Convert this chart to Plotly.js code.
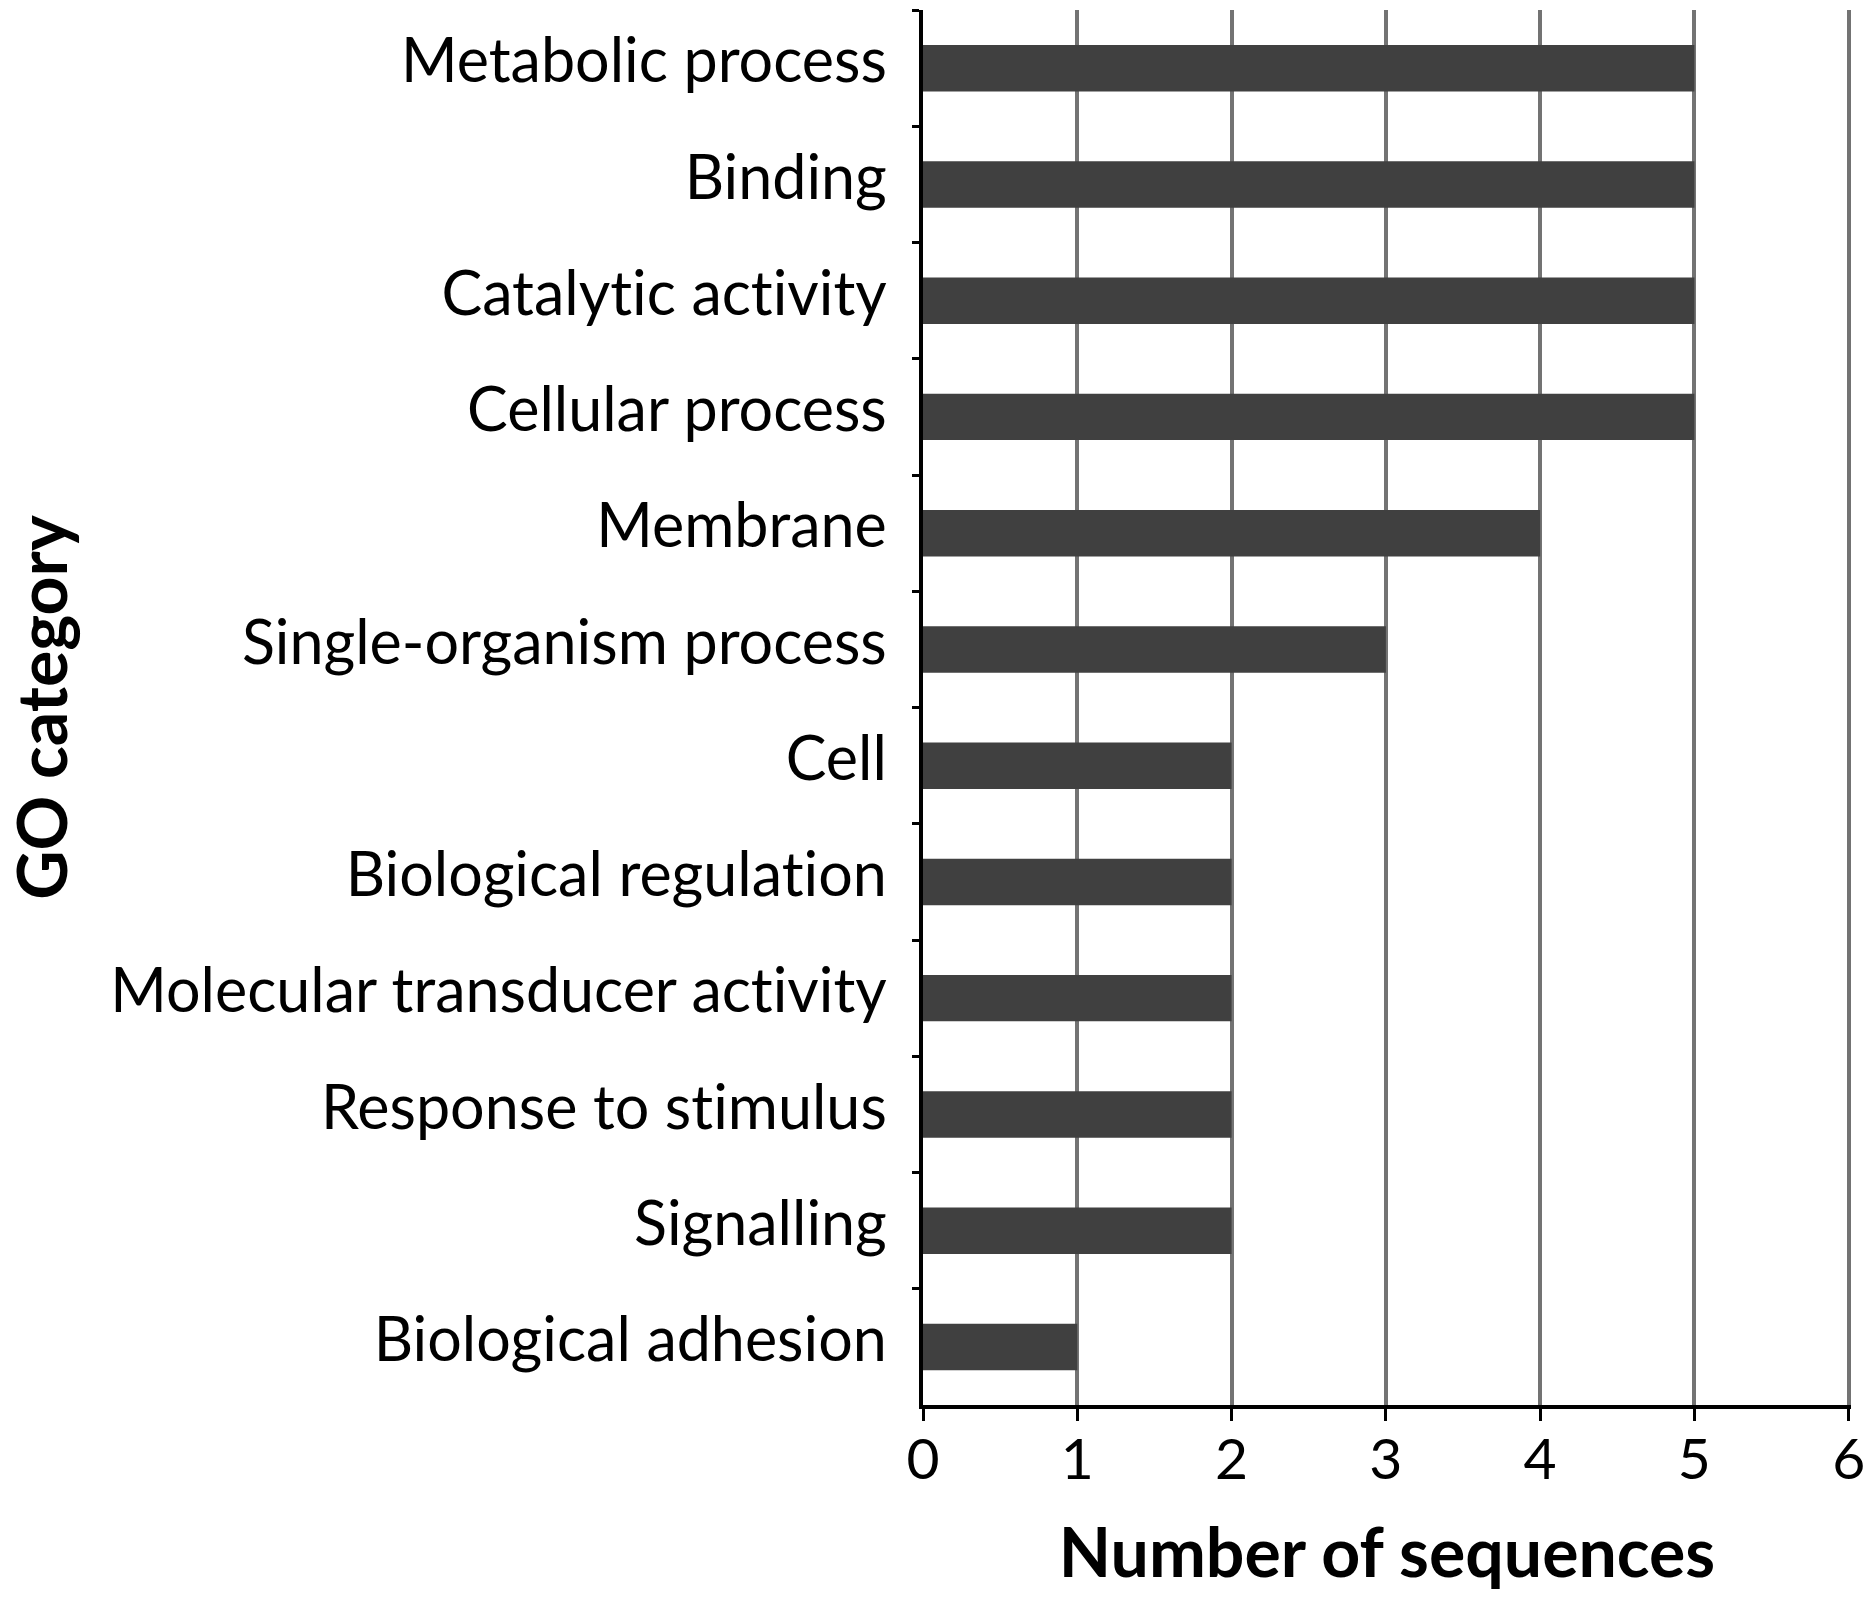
<!DOCTYPE html>
<html>
<head>
<meta charset="utf-8">
<script src="https://cdn.plot.ly/plotly-3.0.1.min.js"></script>
<style>
html,body{margin:0;padding:0;background:#fff;}
#chart{width:1867px;height:1600px;}
#chart text{font-variant-ligatures:none;font-feature-settings:"liga" 0;}
</style>
</head>
<body>
<div id="chart"></div>
<script>
const categories = [
  "Metabolic process",
  "Binding",
  "Catalytic activity",
  "Cellular process",
  "Membrane",
  "Single-organism process",
  "Cell",
  "Biological regulation",
  "Molecular transducer activity",
  "Response to stimulus",
  "Signalling",
  "Biological adhesion"
];
const sequenceCounts = [5, 5, 5, 5, 4, 3, 2, 2, 2, 2, 2, 1];
const xTickValues = [0, 1, 2, 3, 4, 5, 6];
const xTitle = "Number of sequences";
const yTitle = "GO category";

const trace = {
  type: "bar",
  orientation: "h",
  x: sequenceCounts,
  y: categories,
  width: 0.4,
  marker: { color: "#404040", line: { width: 0 } },
  hoverinfo: "x+y"
};

const layout = {
  width: 1867,
  height: 1600,
  paper_bgcolor: "#ffffff",
  plot_bgcolor: "#ffffff",
  showlegend: false,
  margin: { l: 923, r: 16, t: 10, b: 195, pad: 0 },
  font: { family: "Lato, 'Open Sans', sans-serif", color: "#000000", size: 60 },
  xaxis: {
    range: [0, 6.015],
    tickvals: xTickValues,
    ticktext: xTickValues.map(String),
    showgrid: true,
    gridcolor: "#737373",
    gridwidth: 4,
    zeroline: false,
    showline: true,
    linecolor: "#000000",
    linewidth: 4,
    ticks: "outside",
    ticklen: 12,
    tickwidth: 3,
    tickcolor: "#000000",
    ticklabelstandoff: -10,
    ticklabeloverflow: "allow",
    tickfont: { family: "Lato, sans-serif", size: 57, color: "#000000" },
    title: { text: xTitle, font: { family: "Lato, sans-serif", size: 68, color: "#000000", weight: "bold" }, standoff: 40 },
    fixedrange: true
  },
  yaxis: {
    type: "category",
    autorange: "reversed",
    showgrid: false,
    zeroline: false,
    showline: true,
    linecolor: "#000000",
    linewidth: 4,
    ticks: "outside",
    tickson: "boundaries",
    ticklen: 7,
    tickwidth: 3,
    tickcolor: "#000000",
    ticklabelstandoff: 20,
    ticklabelshift: 7,
    tickfont: { family: "Lato, sans-serif", size: 61, color: "#000000" },
    title: { text: yTitle, font: { family: "Lato, sans-serif", size: 68, color: "#000000", weight: "bold" }, standoff: 31 },
    fixedrange: true
  }
};

Plotly.newPlot("chart", [trace], layout, { displayModeBar: false, staticPlot: true });
</script>
</body>
</html>
